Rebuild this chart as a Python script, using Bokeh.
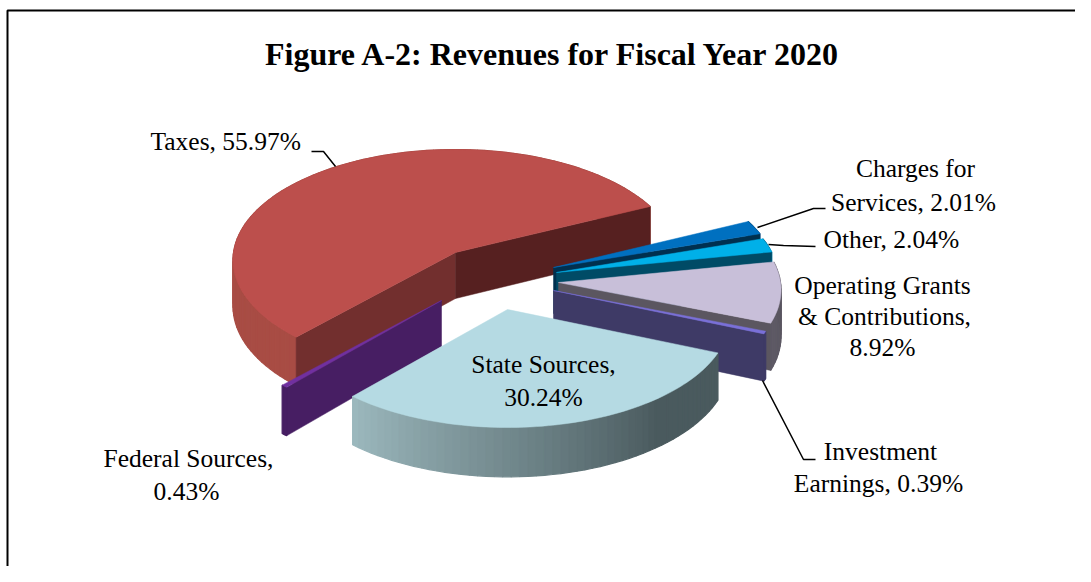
import math
from bokeh.plotting import figure
from bokeh.core.properties import value
from bokeh.embed import file_html
from bokeh.resources import INLINE

# ---- chart data ----
categories = ["Taxes", "Charges for Services", "Other", "Operating Grants & Contributions",
              "Investment Earnings", "State Sources", "Federal Sources"]
shares = [55.97, 2.01, 2.04, 8.92, 0.39, 30.24, 0.43]
title_text = "Figure A-2: Revenues for Fiscal Year 2020"

# ---- styles / layout ----
top_colors = ["#bc4f4c", "#0070c0", "#00b0e8", "#c8bfd9", "#7a70d8", "#b5dae3", "#7030a0"]
rim_from = ["#a84c44", "#00509a", "#0090c0", "#5e5a66", "#3e3a66", "#9cb9be", "#471e63"]
rim_to = ["#a04a42", "#00406a", "#004b66", "#5a5660", "#3e3a66", "#4a5a5e", "#471e63"]
cw_face = ["#562020", "#00304f", "#004b66", "#5b5660", "#3e3a66", "#4a5a5e", "#471e63"]
ccw_face = ["#722f2e", "#00304f", "#004b66", "#5b5660", "#3e3a66", "#4a5a5e", "#471e63"]
apex_x = [455, 553, 556, 558, 553, 507, 441]
apex_y = [252, 267, 272, 282, 290, 309, 300]
START_DEG, RX, RY, PERSP, DEPTH = 25.5, 222, 110, 0.068, 46
W, H = 1075, 566


def hexmix(a, b, t):
    ca = [int(a[i:i + 2], 16) for i in (1, 3, 5)]
    cb = [int(b[i:i + 2], 16) for i in (1, 3, 5)]
    return "#%02x%02x%02x" % tuple(round(x + (y - x) * t) for x, y in zip(ca, cb))


def pt(ax, ay, deg, dz=0.0):
    r = math.radians(deg)
    s = 1 / (1 + PERSP * math.sin(r))
    return ax + RX * math.cos(r) * s, ay - RY * math.sin(r) * s + dz * DEPTH * s


p = figure(width=W, height=H, x_range=(0, W), y_range=(H, 0),
           output_backend="svg", toolbar_location=None, min_border=0)
p.axis.visible = False
p.grid.visible = False
p.outline_line_color = None
p.background_fill_color = "white"

# angular spans (clockwise sequence; Taxes runs counter-clockwise from the start angle)
spans = []
a = START_DEG
spans.append((a, a + shares[0] * 3.6))   # Taxes
for sv in shares[1:]:
    spans.append((a - sv * 3.6, a))
    a -= sv * 3.6

# back-to-front painting order
order = [0, 1, 2, 3, 4, 6, 5]
for i in order:
    lo, hi = spans[i]
    ax, ay = apex_x[i], apex_y[i]
    if i == 0:
        # Taxes: lo is its right end, hi its left end; rim shading runs the other way
        c_a, c_b = rim_to[i], rim_from[i]
    else:
        c_a, c_b = rim_from[i], rim_to[i]
    n = max(2, int((hi - lo) / 2))
    for k in range(n):
        d0 = lo + (hi - lo) * k / n
        d1 = lo + (hi - lo) * (k + 1) / n
        q = [pt(ax, ay, d0), pt(ax, ay, d1), pt(ax, ay, d1, 1), pt(ax, ay, d0, 1)]
        col = hexmix(c_a, c_b, min(1.0, (k + 0.5) / n / 0.75))
        p.patch([c[0] for c in q], [c[1] for c in q], fill_color=col, line_color=col, line_width=1.2)
    # cut faces that turn towards the viewer
    faces = []
    if math.sin(math.radians(hi + 90)) < 0:
        faces.append((hi, ccw_face[i]))
    if math.sin(math.radians(lo - 90)) < 0:
        faces.append((lo, cw_face[i]))
    for d, col in faces:
        q = [(ax, ay), pt(ax, ay, d), pt(ax, ay, d, 1), (ax, ay + DEPTH)]
        p.patch([c[0] for c in q], [c[1] for c in q], fill_color=col, line_color=col, line_width=0.5)
    # top surface
    steps = max(3, int((hi - lo) / 1.5))
    arc = [pt(ax, ay, lo + (hi - lo) * k / steps) for k in range(steps + 1)]
    xs = [ax] + [c[0] for c in arc]
    ys = [ay] + [c[1] for c in arc]
    p.patch(xs, ys, fill_color=top_colors[i], line_color=top_colors[i], line_width=0.5)

# frame: left and top edges only inside the picture
p.line([7, 7, W], [H, 10, 10], line_color="black", line_width=2)

# leader lines
leaders = [
    ([311, 323, 335], [151, 151, 166]),
    ([757, 813, 825], [227, 208, 208]),
    ([768, 783, 815], [244, 245, 246]),
    ([762, 803, 815], [380, 459, 459]),
]
for lx, ly in leaders:
    p.line(lx, ly, line_color="black", line_width=1.5)

F = value("Liberation Serif")
p.text([553], [53], text=[title_text], text_font=F, text_font_size="32px", text_font_style="bold",
       text_align="center", text_baseline="middle", text_color="black")
labels = [
    (150, 141, "left", "Taxes, 55.97%"),
    (915, 168, "center", "Charges for"),
    (913, 202, "center", "Services, 2.01%"),
    (823, 239, "left", "Other, 2.04%"),
    (882, 285, "center", "Operating Grants"),
    (884, 316, "center", "& Contributions,"),
    (882, 347, "center", "8.92%"),
    (880, 451, "center", "Investment"),
    (878, 483, "center", "Earnings, 0.39%"),
    (188, 458, "center", "Federal Sources,"),
    (186, 491, "center", "0.43%"),
    (543, 364, "center", "State Sources,"),
    (543, 397, "center", "30.24%"),
]
for x, y, al, t in labels:
    p.text([x], [y], text=[t], text_font=F, text_font_size="25.5px", text_align=al,
           text_baseline="middle", text_color="black")

open("out.html", "w").write(file_html(p, INLINE))
